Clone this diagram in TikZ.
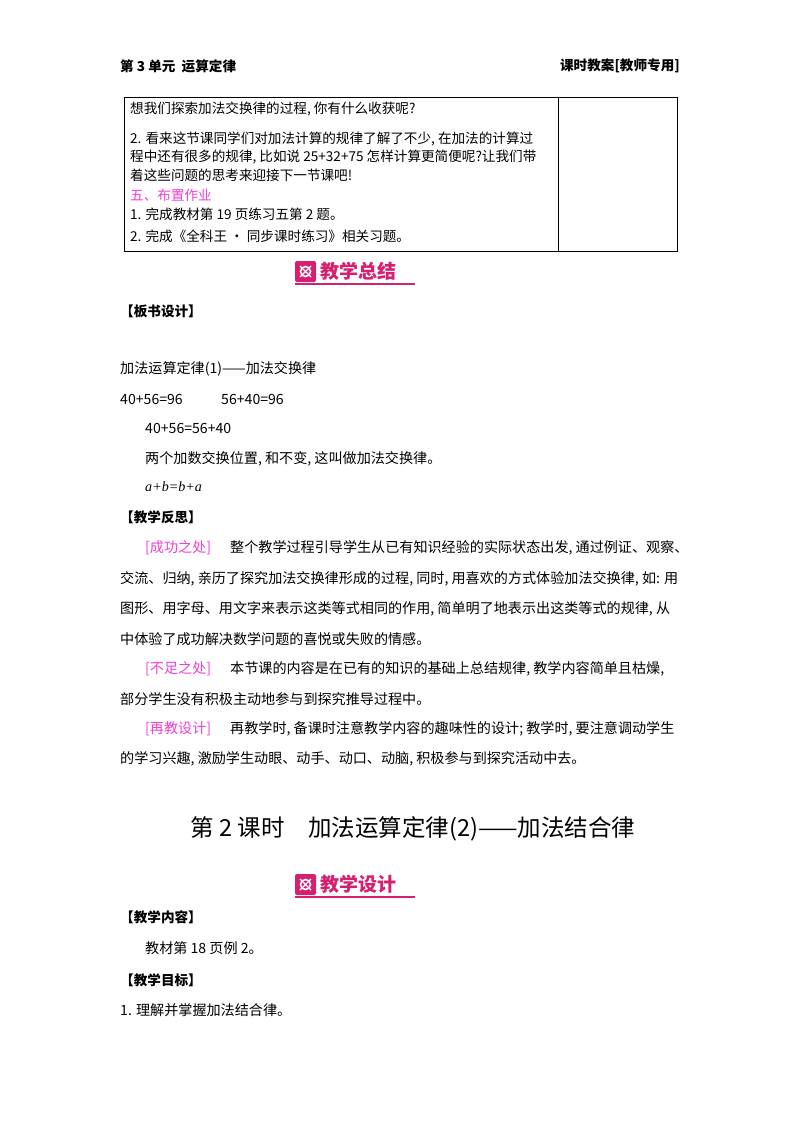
\documentclass[tikz,border=0pt]{standalone}
\usepackage{fontspec}
\setmainfont{Noto Sans CJK SC}
\newfontfamily\lat{Liberation Serif}
\definecolor{mag}{HTML}{D6206F}
\definecolor{pink}{HTML}{F040D0}
\begin{document}
\begin{tikzpicture}[x=1pt,y=-1pt,
  txt/.style={anchor=west,inner sep=0pt,font=\fontsize{14.1}{15}\selectfont},
  ttxt/.style={anchor=west,inner sep=0pt,font=\fontsize{13.6}{14}\selectfont},
  hd/.style={txt,font=\fontsize{13.6}{14}\selectfont\bfseries},
  banner/.style={anchor=west,inner sep=0pt,text=mag,font=\fontsize{19}{20}\selectfont\bfseries}]
\useasboundingbox (0,0) rectangle (800,1132);
\fill[white] (0,0) rectangle (800,1132);
\node[hd] (h1) at (120,66) {第 3 单元\ \ 运算定律};
\node[hd,anchor=east] (h2) at (680,66) {课时教案[教师专用]};
% table
\draw[line width=0.9pt] (124,97) rectangle (677,251);
\draw[line width=0.9pt] (558,97) -- (558,251);
\node[ttxt] (t1) at (130,109) {想我们探索加法交换律的过程, 你有什么收获呢?};
\node[ttxt] (t2) at (130,139) {2. 看来这节课同学们对加法计算的规律了解了不少, 在加法的计算过};
\node[ttxt] (t3) at (130,157) {程中还有很多的规律, 比如说 25+32+75 怎样计算更简便呢?让我们带};
\node[ttxt] (t4) at (130,175) {着这些问题的思考来迎接下一节课吧!};
\node[ttxt,text=pink] (t5) at (130,195) {五、布置作业};
\node[ttxt] (t6) at (130,214) {1. 完成教材第 19 页练习五第 2 题。};
\node[ttxt] (t7) at (130,236) {2. 完成《全科王 • 同步课时练习》相关习题。};
% banner 1
\fill[mag,rounded corners=2pt] (295,261) rectangle (316,282);
\draw[white,line width=1.6pt] (305.5,271.5) circle (5);
\draw[white,line width=1.2pt] (300,266) -- (311,277) (300,277) -- (311,266);
\node[banner] (b1) at (320,271) {教学总结};
\draw[mag,line width=1.5pt] (295,284) -- (415,284);
\node[hd] (s1) at (120,311) {【板书设计】};
\node[txt] (l1) at (120,369) {加法运算定律(1)——加法交换律};
\node[txt] (l2) at (120,399) {40+56=96};
\node[txt] (l3) at (221,399) {56+40=96};
\node[txt] (l4) at (145,428) {40+56=56+40};
\node[txt] (l5) at (145,459) {两个加数交换位置, 和不变, 这叫做加法交换律。};
\node[txt] (l6) at (145,487) {\lat\itshape a+b=b+a};
\node[hd] (s2) at (120,517) {【教学反思】};
\node[txt,text=pink] (r1a) at (145,548) {[成功之处]};
\node[txt] (r1) at (230,548) {整个教学过程引导学生从已有知识经验的实际状态出发, 通过例证、观察、};
\node[txt] (r2) at (120,579) {交流、归纳, 亲历了探究加法交换律形成的过程, 同时, 用喜欢的方式体验加法交换律, 如: 用};
\node[txt] (r3) at (120,609) {图形、用字母、用文字来表示这类等式相同的作用, 简单明了地表示出这类等式的规律, 从};
\node[txt] (r4) at (120,639) {中体验了成功解决数学问题的喜悦或失败的情感。};
\node[txt,text=pink] (r5a) at (145,669) {[不足之处]};
\node[txt] (r5) at (230,669) {本节课的内容是在已有的知识的基础上总结规律, 教学内容简单且枯燥,};
\node[txt] (r6) at (120,699) {部分学生没有积极主动地参与到探究推导过程中。};
\node[txt,text=pink] (r7a) at (145,729) {[再教设计]};
\node[txt] (r7) at (230,729) {再教学时, 备课时注意教学内容的趣味性的设计; 教学时, 要注意调动学生};
\node[txt] (r8) at (120,759) {的学习兴趣, 激励学生动眼、动手、动口、动脑, 积极参与到探究活动中去。};
\node[inner sep=0pt,font=\fontsize{23.5}{24}\selectfont] (title) at (413,829) {第 2 课时\quad 加法运算定律(2)——加法结合律};
% banner 2
\fill[mag,rounded corners=2pt] (295,874) rectangle (316,895);
\draw[white,line width=1.6pt] (305.5,884.5) circle (5);
\draw[white,line width=1.2pt] (300,879) -- (311,890) (300,890) -- (311,879);
\node[banner] (b2) at (320,884) {教学设计};
\draw[mag,line width=1.5pt] (295,897) -- (415,897);
\node[hd] (s3) at (120,917) {【教学内容】};
\node[txt] (c1) at (145,948) {教材第 18 页例 2。};
\node[hd] (s4) at (120,980) {【教学目标】};
\node[txt] (c2) at (120,1010) {1. 理解并掌握加法结合律。};
\end{tikzpicture}
\end{document}
